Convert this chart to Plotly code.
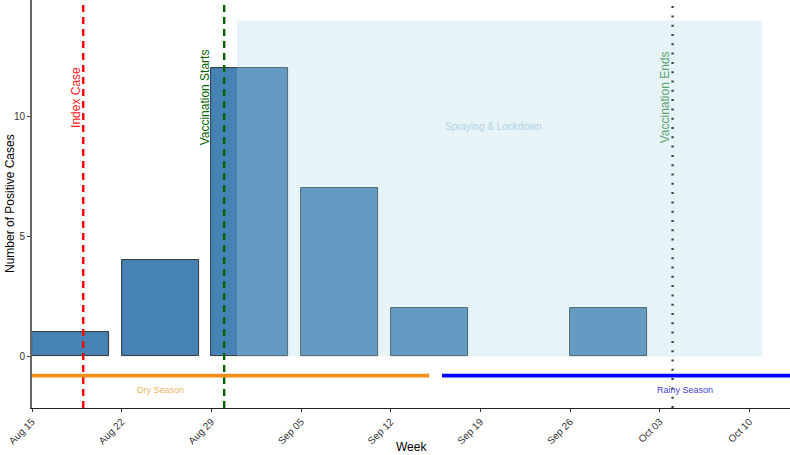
import plotly.graph_objects as go
import pandas as pd

# ---- data ----
week_start = ["2021-08-15", "2021-08-22", "2021-08-29", "2021-09-05", "2021-09-12", "2021-09-26"]
cases = [1, 4, 12, 7, 2, 2]

tick_dates = ["2021-08-15", "2021-08-22", "2021-08-29", "2021-09-05", "2021-09-12",
              "2021-09-19", "2021-09-26", "2021-10-03", "2021-10-10"]
tick_labels = ["Aug 15", "Aug 22", "Aug 29", "Sep 05", "Sep 12", "Sep 19", "Sep 26", "Oct 03", "Oct 10"]

event_names = ["Index Case", "Vaccination Starts", "Vaccination Ends"]
event_dates = ["2021-08-19", "2021-08-30", "2021-10-04"]

spray_start, spray_end, spray_top = "2021-08-31", "2021-10-11", 14
season_names = ["Dry Season", "Rainy Season"]
season_start = ["2021-08-15", "2021-09-16"]
season_end = ["2021-09-15", "2021-10-20"]

x_range = ["2021-08-15", "2021-10-13 04:00"]
y_range = [-2.15, 14.85]

DAY = 86400000
ws = pd.to_datetime(week_start)
centers = ws + pd.Timedelta(days=3)

fig = go.Figure()
fig.add_trace(go.Bar(
    x=centers, y=cases, width=[6 * DAY] * len(cases),
    marker=dict(color="#4682B4", line=dict(color="#111111", width=0.8)),
    showlegend=False, hoverinfo="skip"))

shapes = []
# spraying & lockdown rect (drawn over bars)
shapes.append(dict(type="rect", xref="x", yref="y", x0=spray_start, x1=spray_end, y0=0, y1=spray_top,
                   fillcolor="rgba(173,216,230,0.3)", line=dict(width=0), layer="above"))
# event lines
ev_styles = [
    dict(color="#FF0000", width=2.4, dash="7px,5px"),
    dict(color="#006400", width=2.4, dash="7px,5px"),
    dict(color="#2E4A38", width=2.3, dash="2px,7.3px"),
]
for d, st in zip(event_dates, ev_styles):
    shapes.append(dict(type="line", xref="x", yref="paper", x0=d, x1=d, y0=0, y1=1,
                       line=st, layer="above"))
# season lines
season_colors = ["#F28E1C", "#0000FF"]
for s, e, c in zip(season_start, season_end, season_colors):
    shapes.append(dict(type="line", xref="x", yref="y", x0=s, x1=min(e, x_range[1]), y0=-0.8, y1=-0.8,
                       line=dict(color=c, width=3.6), layer="above"))

font_family = "Liberation Sans, Arial, sans-serif"
annotations = []
ev_text_colors = ["#FF1A1A", "#006400", "#5FA56E"]
ev_text_shift = [-7.5, -19, -7.5]
for name, d, c, sh in zip(event_names, event_dates, ev_text_colors, ev_text_shift):
    annotations.append(dict(x=d, y=10.8, xref="x", yref="y", text=name, textangle=-90,
                            showarrow=False, xshift=sh, font=dict(size=12, color=c, family=font_family)))
annotations.append(dict(x="2021-09-20", y=9.6, xref="x", yref="y", text="Spraying & Lockdown",
                        showarrow=False, font=dict(size=10, color="#B3D2E4", family=font_family)))
season_text_x = ["2021-08-25", "2021-10-05"]
season_text_colors = ["#F2B460", "#4444D4"]
for name, xx, c in zip(season_names, season_text_x, season_text_colors):
    annotations.append(dict(x=xx, y=-1.4, xref="x", yref="y", text=name, showarrow=False,
                            font=dict(size=9, color=c, family=font_family)))
# axis titles
annotations.append(dict(x=0.5, y=-0.096, xref="paper", yref="paper", text="Week", showarrow=False,
                        yanchor="middle", font=dict(size=12, color="#000000", family=font_family)))
annotations.append(dict(x=-0.029, y=0.5, xref="paper", yref="paper", text="Number of Positive Cases",
                        textangle=-90, showarrow=False, xanchor="center",
                        font=dict(size=12, color="#000000", family=font_family)))

fig.update_layout(
    width=790, height=455, autosize=False,
    margin=dict(l=32, r=0, t=0, b=47, pad=0),
    plot_bgcolor="white", paper_bgcolor="white",
    font=dict(family=font_family, size=10, color="#4D4D4D"),
    shapes=shapes, annotations=annotations, bargap=0,
    xaxis=dict(type="date", range=x_range, tickmode="array", tickvals=tick_dates, ticktext=tick_labels,
               tickangle=-45, ticks="outside", ticklen=3, tickcolor="#333333", tickwidth=1,
               showline=True, linecolor="#222222", linewidth=1, showgrid=False, zeroline=False,
               tickfont=dict(size=10, color="#333333")),
    yaxis=dict(range=y_range, tickmode="array", tickvals=[0, 5, 10], ticktext=["0", "5", "10"],
               ticks="outside", ticklen=3, tickcolor="#333333", tickwidth=1,
               showline=True, linecolor="#666666", linewidth=1.7, showgrid=False, zeroline=False,
               tickfont=dict(size=10, color="#333333")),
)

fig.write_html("out.html")
